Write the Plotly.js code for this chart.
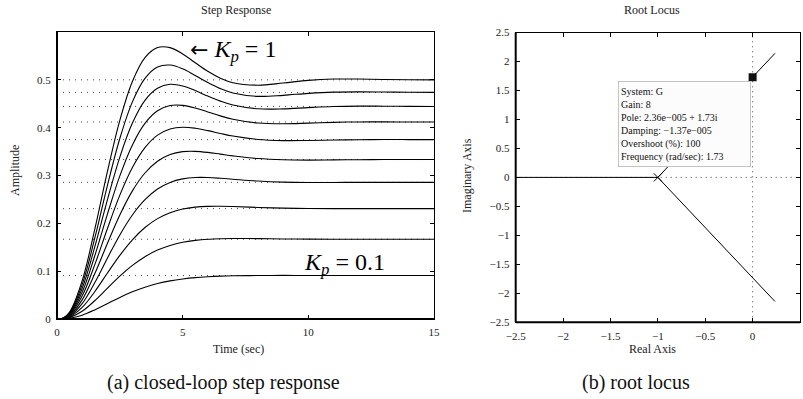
<!DOCTYPE html>
<html>
<head>
<meta charset="utf-8">
<script src="https://cdn.plot.ly/plotly-3.0.1.min.js"></script>
<style>html,body{margin:0;padding:0;background:#fff;}#chart{width:803px;height:399px;}</style>
</head>
<body>
<div id="chart"></div>
<script>
// ---- Step response data ----
const time = [0, 0.25, 0.5, 1, 1.5, 2, 2.5, 3, 3.5, 4, 4.5, 5, 5.5, 6, 6.5, 7, 8, 9, 10, 11, 12, 13, 14, 15];
const kpValues = [1, 0.9, 0.8, 0.7, 0.6, 0.5, 0.4, 0.3, 0.2, 0.1];
const amp_kp100 = [0, 0.0022, 0.0143, 0.0797, 0.1867, 0.3070, 0.4154, 0.4966, 0.5464, 0.5674, 0.5673, 0.5542, 0.5358, 0.5178, 0.5034, 0.4940, 0.4888, 0.4934, 0.4989, 0.5016, 0.5016, 0.5007, 0.5001, 0.5000];
const amp_kp090 = [0, 0.0020, 0.0129, 0.0718, 0.1684, 0.2778, 0.3773, 0.4539, 0.5030, 0.5268, 0.5309, 0.5230, 0.5090, 0.4942, 0.4816, 0.4726, 0.4655, 0.4676, 0.4717, 0.4743, 0.4749, 0.4745, 0.4739, 0.4737];
const amp_kp080 = [0, 0.0018, 0.0115, 0.0639, 0.1501, 0.2481, 0.3385, 0.4096, 0.4571, 0.4823, 0.4907, 0.4871, 0.4775, 0.4660, 0.4555, 0.4473, 0.4394, 0.4393, 0.4420, 0.4442, 0.4451, 0.4449, 0.4446, 0.4444];
const amp_kp070 = [0, 0.0015, 0.0102, 0.0560, 0.1317, 0.2182, 0.2992, 0.3640, 0.4090, 0.4352, 0.4463, 0.4467, 0.4411, 0.4329, 0.4246, 0.4177, 0.4097, 0.4081, 0.4094, 0.4111, 0.4120, 0.4121, 0.4119, 0.4118];
const amp_kp060 = [0, 0.0013, 0.0087, 0.0480, 0.1131, 0.1882, 0.2589, 0.3167, 0.3583, 0.3844, 0.3972, 0.4010, 0.3988, 0.3938, 0.3879, 0.3825, 0.3754, 0.3730, 0.3732, 0.3741, 0.3748, 0.3752, 0.3751, 0.3750];
const amp_kp050 = [0, 0.0011, 0.0071, 0.0399, 0.0944, 0.1575, 0.2176, 0.2679, 0.3052, 0.3298, 0.3439, 0.3499, 0.3505, 0.3483, 0.3447, 0.3411, 0.3354, 0.3328, 0.3322, 0.3326, 0.3330, 0.3333, 0.3333, 0.3333];
const amp_kp040 = [0, 0.0009, 0.0058, 0.0320, 0.0757, 0.1266, 0.1758, 0.2175, 0.2495, 0.2717, 0.2856, 0.2929, 0.2958, 0.2958, 0.2943, 0.2923, 0.2885, 0.2862, 0.2854, 0.2855, 0.2857, 0.2857, 0.2857, 0.2857];
const amp_kp030 = [0, 0.0007, 0.0044, 0.0241, 0.0570, 0.0956, 0.1331, 0.1656, 0.1912, 0.2098, 0.2222, 0.2299, 0.2339, 0.2355, 0.2357, 0.2351, 0.2332, 0.2317, 0.2310, 0.2308, 0.2308, 0.2308, 0.2308, 0.2308];
const amp_kp020 = [0, 0.0004, 0.0029, 0.0161, 0.0381, 0.0640, 0.0896, 0.1120, 0.1302, 0.1440, 0.1537, 0.1603, 0.1643, 0.1667, 0.1678, 0.1682, 0.1680, 0.1674, 0.1670, 0.1668, 0.1667, 0.1667, 0.1667, 0.1667];
const amp_kp010 = [0, 0.0002, 0.0014, 0.0080, 0.0190, 0.0321, 0.0452, 0.0568, 0.0665, 0.0741, 0.0797, 0.0837, 0.0866, 0.0884, 0.0896, 0.0903, 0.0909, 0.0911, 0.0910, 0.0909, 0.0909, 0.0909, 0.0909, 0.0909];
const finalValues = [0.5, 0.4737, 0.4444, 0.4118, 0.375, 0.3333, 0.2857, 0.2308, 0.1667, 0.0909];
const stepXTicks = [0, 5, 10, 15];
const stepYTicks = [0, 0.1, 0.2, 0.3, 0.4, 0.5];
const timeSpan = [0, 15];

// ---- Root locus data ----
const branchRealAxisRe = [-1, -2.5];
const branchRealAxisIm = [0, 0];
const branchLowerRe = [-1, 0.236];
const branchLowerIm = [0, -2.14];
const branchUpperRe = [-1, 0.236];
const branchUpperIm = [0, 2.14];
const openLoopPoleRe = [-1];
const openLoopPoleIm = [0];
const tipPoleRe = [0.0000236];
const tipPoleIm = [1.73];
const locusXTicks = [-2.5, -2, -1.5, -1, -0.5, 0, 0.5];
const locusYTicks = [-2.5, -2, -1.5, -1, -0.5, 0, 0.5, 1, 1.5, 2, 2.5];
const tipLines = ["System: G", "Gain: 8", "Pole: 2.36e\u2212005 + 1.73i", "Damping: \u22121.37e\u2212005", "Overshoot (%): 100", "Frequency (rad/sec): 1.73"];

const W = 803, H = 399;
const px = v => v / W;
const py = v => 1 - v / H;
const SERIF = "Liberation Serif, Times New Roman, serif";

const curves = [amp_kp100, amp_kp090, amp_kp080, amp_kp070, amp_kp060, amp_kp050, amp_kp040, amp_kp030, amp_kp020, amp_kp010];

const traces = [];
// dotted steady-state lines
const dx = [], dy = [];
finalValues.forEach(v => { dx.push(timeSpan[0], timeSpan[1], null); dy.push(v, v, null); });
traces.push({x: dx, y: dy, xaxis: 'x', yaxis: 'y', mode: 'lines', line: {color: '#444', width: 1, dash: '1px,5px'}, hoverinfo: 'skip', showlegend: false});
curves.forEach((c, i) => {
  traces.push({x: time, y: c, xaxis: 'x', yaxis: 'y', mode: 'lines', name: 'Kp=' + kpValues[i],
    line: {color: '#000', width: 1.1, shape: 'spline', smoothing: 1}, showlegend: false});
});
// root locus zero lines (dotted)
traces.push({x: [0, 0], y: [locusYTicks[0], locusYTicks[locusYTicks.length - 1]], xaxis: 'x2', yaxis: 'y2', mode: 'lines', line: {color: '#444', width: 1, dash: '1px,4px'}, hoverinfo: 'skip', showlegend: false});
traces.push({x: [locusXTicks[0], locusXTicks[locusXTicks.length - 1]], y: [0, 0], xaxis: 'x2', yaxis: 'y2', mode: 'lines', line: {color: '#444', width: 1, dash: '1px,4px'}, hoverinfo: 'skip', showlegend: false});
// branches
[[branchRealAxisRe, branchRealAxisIm], [branchLowerRe, branchLowerIm], [branchUpperRe, branchUpperIm]].forEach(b => {
  traces.push({x: b[0], y: b[1], xaxis: 'x2', yaxis: 'y2', mode: 'lines', line: {color: '#000', width: 1}, showlegend: false});
});
traces.push({x: openLoopPoleRe, y: openLoopPoleIm, xaxis: 'x2', yaxis: 'y2', mode: 'markers',
  marker: {symbol: 'x-thin', size: 8, line: {color: '#000', width: 1}}, showlegend: false});
traces.push({x: tipPoleRe, y: tipPoleIm, xaxis: 'x2', yaxis: 'y2', mode: 'markers',
  marker: {symbol: 'square', size: 8, color: '#111'}, showlegend: false});

const axBase = {showline: true, linecolor: '#000', linewidth: 1, mirror: 'ticks', ticks: 'inside', ticklen: 4,
  tickcolor: '#000', tickwidth: 1, showgrid: false, zeroline: false, fixedrange: true, ticklabelstandoff: 3,
  tickfont: {family: SERIF, size: 11, color: '#222'}};

function label(text, x, y, size, extra) {
  return Object.assign({text: text, xref: 'paper', yref: 'paper', x: px(x), y: py(y), xanchor: 'center', yanchor: 'middle',
    showarrow: false, font: {family: SERIF, size: size, color: '#222'}}, extra || {});
}

const layout = {
  width: W, height: H, margin: {l: 0, r: 0, t: 0, b: 0}, paper_bgcolor: '#fff', plot_bgcolor: '#fff',
  showlegend: false,
  xaxis: Object.assign({}, axBase, {domain: [px(57), px(434)], range: timeSpan, tickvals: stepXTicks, anchor: 'y'}),
  yaxis: Object.assign({}, axBase, {domain: [py(319), py(32)], range: [0, 0.6], tickvals: stepYTicks, anchor: 'x'}),
  xaxis2: Object.assign({}, axBase, {domain: [px(515.7), px(800)], range: [locusXTicks[0], locusXTicks[locusXTicks.length - 1]], tickvals: locusXTicks, anchor: 'y2'}),
  yaxis2: Object.assign({}, axBase, {domain: [py(322.3), py(32.5)], range: [locusYTicks[0], locusYTicks[locusYTicks.length - 1]], tickvals: locusYTicks, anchor: 'x2'}),
  shapes: [
    {type: 'line', xref: 'x domain', yref: 'y domain', x0: 0, x1: 1, y0: 0, y1: 0, line: {color: '#000', width: 2}},
    {type: 'line', xref: 'x domain', yref: 'y domain', x0: 0, x1: 0, y0: 0, y1: 1, line: {color: '#000', width: 2}},
    {type: 'line', xref: 'x2 domain', yref: 'y2 domain', x0: 0, x1: 1, y0: 0, y1: 0, line: {color: '#000', width: 2}},
    {type: 'line', xref: 'x2 domain', yref: 'y2 domain', x0: 0, x1: 0, y0: 0, y1: 1, line: {color: '#000', width: 2}}
  ],
  annotations: [
    label('Step Response', 236, 10.5, 12),
    label('Amplitude', 15, 170, 12, {textangle: -90}),
    label('Time (sec)', 238, 349, 12),
    label('Root Locus', 652, 10.5, 12),
    label('Imaginary Axis', 467, 176, 12, {textangle: -90}),
    label('Real Axis', 652.5, 349, 12),
    label('<span style="font-family:DejaVu Sans;font-size:22px">\u2190</span> <i>K</i><sub><i>p</i></sub> = 1', 188, 51, 24, {xanchor: 'left', font: {family: SERIF, size: 24, color: '#000'}}),
    label('<i>K</i><sub><i>p</i></sub> = 0.1', 302, 264, 24, {xanchor: 'left', font: {family: SERIF, size: 24, color: '#000'}}),
    label(tipLines.join('<br>'), 618.3, 81, 10, {xanchor: 'left', yanchor: 'top', align: 'left',
      width: 127, height: 80, borderpad: 2, borderwidth: 1, bordercolor: '#c4c4c4', bgcolor: '#fcfcfc',
      font: {family: SERIF, size: 10, color: '#111'}}),
    label('(a) closed-loop step response', 223, 382, 20, {font: {family: SERIF, size: 20, color: '#111'}}),
    label('(b) root locus', 635.5, 382, 20, {font: {family: SERIF, size: 20, color: '#111'}})
  ]
};

Plotly.newPlot('chart', traces, layout, {staticPlot: true, displayModeBar: false});
</script>
</body>
</html>
